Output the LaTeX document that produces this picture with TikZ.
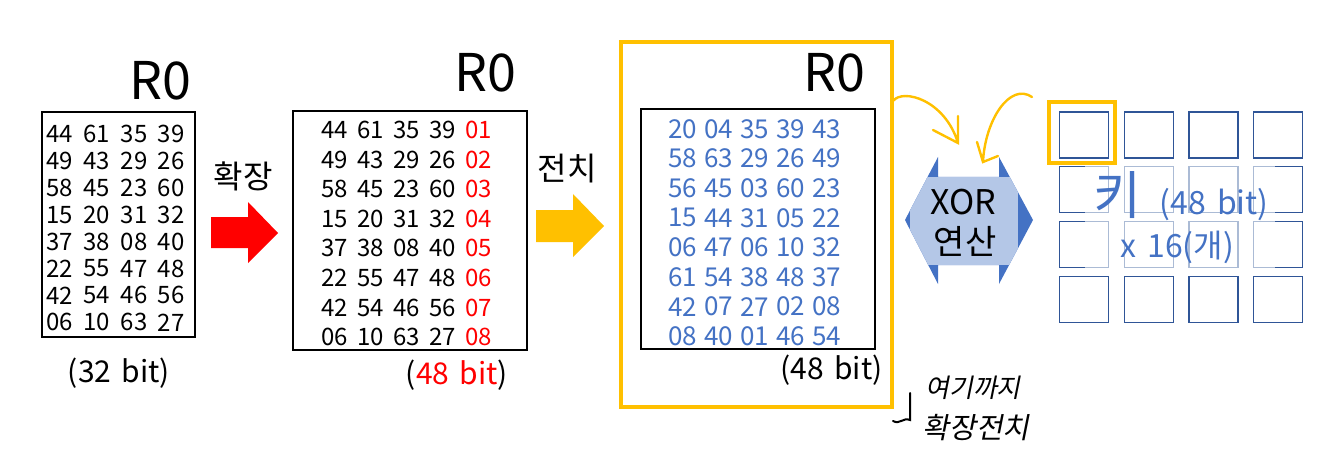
\documentclass[tikz,border=0pt]{standalone}
\usepackage{fontspec}
\setmainfont{Noto Sans CJK KR}
\newfontfamily\handfont[FakeSlant=0.2]{Noto Sans CJK KR}
\definecolor{ppyellow}{HTML}{FFC000}
\definecolor{ppblue}{HTML}{4472C4}
\definecolor{ppdark}{HTML}{2F5597}
\definecolor{pplight}{HTML}{B4C7E7}

\begin{document}
\begin{tikzpicture}[x=0.5pt, y=-0.5pt, every node/.style={inner sep=0pt},
    num/.style={font=\fontsize{12}{13}\selectfont},
    title/.style={font=\fontsize{26}{30}\selectfont},
    lbl/.style={font=\fontsize{15}{17}\selectfont},
    blk/.style={draw, line width=0.6pt},
    cell/.style={draw=ppdark, line width=0.6pt, minimum width=24.5pt, minimum height=23pt}]
\useasboundingbox (0,0) rectangle (1334,465);

% first register, 32 bit
\node[title] (T1) at (160,81) {R0};
\node[blk, minimum width=76.5pt, minimum height=112.5pt] (B1) at (118.5,224.5) {};
\foreach \row [count=\r] in {{44,61,35,39},{49,43,29,26},{58,45,23,60},{15,20,31,32},
                             {37,38,08,40},{22,55,47,48},{42,54,46,56},{06,10,63,27}}
  \foreach \v [count=\c] in \row
    \node[num] (a-\r-\c) at (59.7+37.2*\c-37.2, 134+26.9*\r-26.9) {\v};
\node[lbl] (S1) at (119,373) {(32\hspace{0.35em}bit)};

% expansion
\node[font=\fontsize{16}{18}\selectfont] (E) at (243,176) {확장};
\fill[red] (211,217) -- (248,217) -- (248,202) -- (278,233) -- (248,263) -- (248,248) -- (211,248) -- cycle;

% second register, 48 bit
\node[title] (T2) at (485,73) {R0};
\node[blk, minimum width=117pt, minimum height=119.5pt] (B2) at (410,230.5) {};
\foreach \row [count=\r] in {{44,61,35,39},{49,43,29,26},{58,45,23,60},{15,20,31,32},
                             {37,38,08,40},{22,55,47,48},{42,54,46,56},{06,10,63,27}}
  \foreach \v [count=\c] in \row
    \node[num] (b-\r-\c) at (334.5+36*\c-36, 130+29.6*\r-29.6) {\v};
\foreach \r in {1,...,8}
  \node[num, red] (b-\r-5) at (478.5, 130+29.6*\r-29.6) {0\r};
\node[lbl] (S2) at (457,375) {(\textcolor{red}{48\hspace{0.35em}bit})};

% permutation
\node[font=\fontsize{16}{18}\selectfont] (P) at (567,169) {전치};
\fill[ppyellow] (536,210) -- (573,210) -- (573,194) -- (604,226) -- (573,257) -- (573,242) -- (536,242) -- cycle;

% third register, permuted
\node[draw=ppyellow, line width=2pt, minimum width=135.5pt, minimum height=182.5pt] (F) at (756.5,224.5) {};
\node[title] (T3) at (834,73) {R0};
\node[blk, minimum width=117pt, minimum height=120pt] (B3) at (758,229) {};
\foreach \row [count=\r] in {{20,04,35,39,43},{58,63,29,26,49},{56,45,03,60,23},{15,44,31,05,22},
                             {06,47,06,10,32},{61,54,38,48,37},{42,07,27,02,08},{08,40,01,46,54}}
  \foreach \v [count=\c] in \row
    \node[num, text=ppblue, font=\fontsize{13}{14}\selectfont] (c-\r-\c) at (682.5+36*\c-36, 129+29.6*\r-29.6) {\v};
\node[lbl] (S3) at (831.5,370) {(48\hspace{0.35em}bit)};

% xor
\fill[ppblue] (905,220) -- (938,157) -- (938,177) -- (999,177) -- (999,157) -- (1033,220)
  -- (999,284) -- (999,265) -- (938,265) -- (938,284) -- cycle;
\begin{scope}
  \clip (905,220) -- (938,157) -- (938,177) -- (999,177) -- (999,157) -- (1033,220)
    -- (999,284) -- (999,265) -- (938,265) -- (938,284) -- cycle;
  \fill[pplight] (910,177) rectangle (1018,265);
\end{scope}
\node[font=\fontsize{17}{19}\selectfont] (X1) at (963,202) {XOR};
\node[font=\fontsize{17}{19}\selectfont] (X2) at (965,241) {연산};

% round keys
\foreach \i in {0,...,3}
  \foreach \j in {0,...,3}
    \node[cell] (K\i\j) at (1084+64.7*\i, 135+54.7*\j) {};
\fill[white, opacity=0.6] (1085,166) rectangle (1275,268);
\node[draw=ppyellow, line width=2pt, minimum width=33pt, minimum height=30.5pt] (H) at (1082,132.5) {};
\node[text=ppblue, font=\fontsize{26}{28}\selectfont] (K) at (1117,195) {키};
\node[lbl, text=ppblue, font=\fontsize{16}{18}\selectfont] (KB) at (1214,205) {(48\hspace{0.35em}bit)};
\node[lbl, text=ppblue, font=\fontsize{16}{18}\selectfont] (KN) at (1177,247) {x\hspace{0.35em}16(개)};

% hand notes
\coordinate (h1) at (893,101);
\coordinate (h2) at (958,143);
\coordinate (h3) at (1032,97);
\coordinate (h4) at (983,162);
\draw[ppyellow, line width=1.2pt, line cap=round] (h1) .. controls (903,88) and (945,100) .. (h2)
  (933,130) -- (h2) -- (958,116);
\draw[ppyellow, line width=1.2pt, line cap=round] (h3) .. controls (1010,82) and (985,120) .. (h4)
  (977,142) -- (h4) -- (998,156);
\coordinate (m1) at (910,393);
\coordinate (m2) at (910,420);
\coordinate (m3) at (893,421);
\draw[line width=1pt, line cap=round] (m1) -- (m2) .. controls (903,417) and (900,425) .. (m3);
\node[font=\handfont\fontsize{13}{15}\selectfont] (N1) at (973,388) {여기까지};
\node[font=\handfont\fontsize{14.5}{16}\selectfont] (N2) at (976,428) {확장전치};
\end{tikzpicture}
\end{document}
